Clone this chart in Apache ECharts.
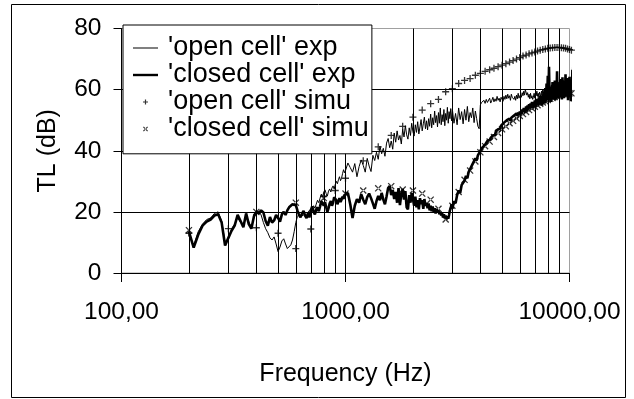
<!DOCTYPE html>
<html>
<head>
<meta charset="utf-8">
<script src="https://cdn.jsdelivr.net/npm/echarts@6/dist/echarts.min.js"></script>
<style>
  html, body { margin: 0; padding: 0; background: #fff; }
  #chart { width: 634px; height: 399px; }
</style>
</head>
<body>
<div id="chart"></div>
<script>
// Frequency sweep of the measurements: [start, end, step] in Hz
const sweepBands = [[200, 990, 10], [1000, 2975, 25], [3000, 10400, 50]];

// Measured transmission loss (dB), 'open cell' foam
const openExpLow = [
  12.5, 9.0, 13.5, 16.0, 17.5, 18.0, 19.5, 20.0, 17.0, 10.0,
  11.0, 14.5, 16.0, 18.0, 16.5, 15.5, 18.8, 16.8, 15.0, 18.0,
  19.8, 20.2, 19.0, 16.5, 14.5, 13.2, 11.5, 10.8, 11.8, 9.5,
  7.0, 8.5, 10.5, 11.2, 9.5, 8.0, 7.8, 9.2, 10.8, 13.5,
  16.5, 18.5, 19.2, 18.5, 18.0, 19.0, 19.5, 18.5, 19.8, 20.5,
  20.0, 21.0, 22.0, 21.2, 22.5, 23.8, 23.0, 24.5, 25.8, 25.0,
  26.5, 27.2, 26.0, 25.2, 26.8, 27.5, 26.5, 27.8, 28.5, 27.5,
  29.0, 30.0, 29.2, 30.5, 31.5, 30.2, 31.0, 32.5, 33.8, 32.8
];
const openExpMid = [
  33.5, 36.0, 34.5, 33.0, 35.8, 31.5, 34.8, 37.0, 35.2, 33.0,
  37.5, 35.0, 33.2, 38.5, 36.8, 39.5, 37.2, 41.5, 39.0, 40.8,
  38.2, 42.5, 44.0, 41.0, 43.2, 40.5, 45.8, 42.8, 46.5, 43.5,
  45.0, 42.2, 47.0, 44.5, 48.2, 45.2, 43.8, 47.5, 45.0, 49.0,
  46.2, 44.8, 48.5, 46.0, 49.5, 45.5, 47.8, 50.2, 46.5, 48.8,
  51.0, 47.2, 49.8, 46.8, 50.5, 48.0, 52.0, 47.5, 50.8, 48.5,
  53.0, 49.2, 51.5, 47.8, 52.5, 49.0, 54.0, 48.5, 51.8, 49.5,
  53.5, 48.2, 52.2, 50.0, 54.2, 49.0, 52.8, 50.5, 53.8, 49.8
];
const openExpHigh = [
  53.5, 49.0, 52.2, 48.5, 54.0, 50.2, 52.8, 48.8, 53.5, 50.0,
  54.5, 49.5, 52.5, 50.8, 54.0, 49.2, 53.0, 50.5, 48.0, 47.2,
  55.0, 55.8, 55.2, 56.5, 55.5, 56.8, 55.8, 56.2, 57.2, 55.6,
  56.5, 57.5, 56.0, 57.0, 56.2, 57.8, 56.5, 57.2, 56.0, 57.5,
  57.0, 56.2, 57.8, 56.8, 58.2, 57.0, 58.5, 57.2, 58.0, 56.5,
  58.5, 57.5, 58.0, 56.8, 57.8, 56.5, 58.2, 57.0, 58.8, 57.2,
  57.8, 58.5, 57.5, 59.0, 58.0, 59.5, 58.2, 60.0, 59.5, 58.2,
  59.0, 57.5, 58.5, 57.0, 58.8, 57.2, 58.0, 56.8, 57.5, 58.8,
  57.2, 59.0, 58.0, 59.5, 57.8, 58.8, 57.5, 59.2, 58.5, 57.8,
  59.5, 58.2, 60.2, 58.5, 59.8, 58.0, 60.5, 58.8, 59.5, 57.5,
  60.0, 58.2, 61.0, 58.5, 60.2, 57.8, 61.5, 59.0, 60.0, 58.2,
  61.8, 59.0, 60.5, 58.0, 62.0, 59.5, 61.0, 58.5, 62.5, 59.8,
  61.2, 58.8, 60.5, 59.0, 62.2, 58.5, 61.0, 59.2, 63.0, 58.8,
  61.5, 59.5, 60.2, 58.0, 62.5, 59.0, 61.0, 58.5, 62.8, 59.2,
  61.0, 58.0, 60.5, 57.5, 62.0, 58.5, 60.0, 56.5, 58.0
];

// Measured transmission loss (dB), 'closed cell' foam
const closedExpLow = [
  13.5, 8.3, 12.5, 15.5, 16.8, 17.5, 18.8, 19.2, 16.5, 9.0,
  11.5, 13.8, 15.5, 19.0, 17.0, 15.0, 19.5, 16.0, 14.5, 18.5,
  20.0, 19.5, 20.5, 19.8, 17.0, 15.5, 18.3, 16.5, 17.2, 19.0,
  18.0, 16.8, 19.2, 20.0, 19.0, 20.5, 21.5, 21.0, 22.5, 23.0,
  22.2, 20.5, 19.0, 18.2, 19.5, 20.3, 18.8, 18.0, 19.5, 18.2,
  20.5, 21.8, 20.0, 19.2, 20.8, 21.5, 20.2, 21.8, 23.5, 22.8,
  22.0, 23.2, 21.5, 20.0, 21.2, 22.8, 23.5, 22.0, 23.0, 24.8,
  25.2, 23.8, 22.5, 23.5, 24.5, 23.2, 24.0, 25.0, 24.2, 25.5
];
const closedExpMid = [
  25.5, 26.2, 22.5, 18.0, 22.0, 24.2, 23.0, 25.8, 24.0, 22.5,
  24.8, 26.0, 24.5, 22.8, 21.0, 23.5, 25.2, 23.8, 26.2, 24.0,
  22.5, 25.0, 27.8, 28.5, 25.5, 27.2, 24.2, 26.5, 23.0, 27.8,
  22.2, 25.8, 27.5, 24.0, 26.8, 21.5, 20.8, 25.5, 23.0, 26.2,
  24.2, 22.0, 25.0, 21.5, 23.8, 20.8, 24.5, 22.5, 23.8, 21.0,
  24.2, 22.0, 23.0, 21.2, 22.8, 20.5, 22.0, 20.2, 21.8, 20.0,
  21.2, 19.5, 21.0, 19.8, 20.5, 19.2, 20.0, 18.8, 19.5, 18.2,
  19.2, 18.0, 18.8, 17.5, 18.5, 17.8, 19.0, 20.5, 21.2, 22.5
];
const closedExpHigh = [
  21.0, 23.5, 22.8, 25.5, 27.0, 26.2, 28.8, 29.5, 30.2, 31.8,
  31.0, 33.2, 34.0, 33.5, 35.8, 36.2, 37.5, 36.8, 38.5, 39.2,
  40.0, 40.5, 41.2, 40.8, 42.0, 42.5, 43.2, 42.8, 43.5, 44.2,
  44.0, 45.0, 45.5, 45.2, 46.5, 46.0, 47.0, 47.5, 47.2, 48.2,
  48.0, 48.8, 49.2, 48.6, 49.5, 50.0, 49.4, 50.2, 50.5, 49.8,
  50.8, 51.2, 50.5, 51.5, 51.0, 51.8, 52.2, 51.4, 52.5, 51.8,
  52.8, 53.2, 52.0, 53.5, 52.6, 54.0, 53.2, 52.5, 54.5, 53.0,
  54.8, 53.6, 55.2, 53.8, 55.5, 54.2, 56.0, 54.0, 55.8, 54.5,
  56.5, 54.2, 57.0, 55.0, 56.2, 54.8, 57.5, 55.2, 58.0, 55.5,
  57.2, 54.8, 58.5, 56.0, 59.2, 55.5, 60.5, 56.2, 62.0, 57.0,
  64.5, 56.5, 67.5, 57.2, 61.0, 56.0, 60.2, 57.5, 62.5, 56.8,
  60.0, 57.2, 63.0, 56.5, 61.5, 58.0, 66.0, 57.0, 62.0, 58.2,
  60.5, 57.5, 63.5, 58.0, 61.0, 56.8, 64.0, 58.5, 60.2, 57.2,
  62.8, 59.0, 65.0, 57.8, 61.5, 58.2, 63.8, 56.5, 60.8, 58.0,
  64.2, 57.5, 61.2, 56.2, 62.5, 57.8, 66.5, 56.0, 68.5
];

// Simulated transmission loss, 'open cell' foam
const openSimuFreq = [
  200, 300, 400, 500, 600, 700, 800, 900, 1000, 1200,
  1400, 1600, 1800, 2000, 2200, 2400, 2600, 2800, 3000, 3200,
  3400, 3600, 3800, 4000, 4200, 4400, 4600, 4800, 5000, 5200,
  5400, 5600, 5800, 6000, 6200, 6400, 6600, 6800, 7000, 7200,
  7400, 7600, 7800, 8000, 8200, 8400, 8600, 8800, 9000, 9200,
  9400, 9600, 9800, 10000, 10200
];
const openSimuTL = [
  13.0, 14.5, 14.8, 13.0, 8.0, 14.4, 25.0, 27.0, 31.0, 36.7,
  41.3, 45.0, 48.0, 51.0, 53.3, 55.4, 56.8, 59.3, 60.3, 62.0,
  63.0, 63.6, 64.7, 65.3, 66.0, 66.5, 67.0, 67.5, 68.0, 68.5,
  69.0, 69.5, 70.0, 70.5, 71.0, 71.3, 71.7, 72.0, 72.3, 72.6,
  72.9, 73.1, 73.3, 73.5, 73.6, 73.7, 73.8, 73.8, 73.8, 73.7,
  73.6, 73.5, 73.3, 73.1, 72.9
];

// Simulated transmission loss, 'closed cell' foam
const closedSimuFreq = [
  200, 400, 600, 800, 1000, 1200, 1400, 1600, 1800, 2000,
  2200, 2400, 2600, 2800, 3000, 3200, 3400, 3600, 3800, 4000,
  4200, 4400, 4600, 4800, 5000, 5200, 5400, 5600, 5800, 6000,
  6200, 6400, 6600, 6800, 7000, 7200, 7400, 7600, 7800, 8000,
  8200, 8400, 8600, 8800, 9000, 9200, 9400, 9600, 9800, 10000,
  10200
];
const closedSimuTL = [
  14.0, 20.0, 23.0, 24.5, 26.0, 27.0, 27.7, 28.4, 27.3, 27.0,
  26.0, 24.0, 21.0, 17.5, 22.0, 26.5, 30.5, 33.5, 36.5, 39.5,
  41.5, 43.0, 44.5, 45.8, 47.0, 48.0, 49.0, 49.8, 50.6, 51.4,
  52.0, 52.7, 53.3, 53.9, 54.4, 54.9, 55.4, 55.8, 56.2, 56.6,
  57.0, 57.3, 57.6, 57.9, 58.1, 58.3, 58.5, 58.6, 58.7, 58.8,
  58.8
];

// Axis ticks and gridlines
const freqTicks = [100, 1000, 10000];
const tlTicks = [0, 20, 40, 60, 80];
const freqGrid = [200, 300, 400, 500, 600, 700, 800, 900, 1000,
                  2000, 3000, 4000, 5000, 6000, 7000, 8000, 9000];

const seriesNames = ["'open cell' exp", "'closed cell' exp", "'open cell' simu", "'closed cell' simu"];

// ---- build the series data ----
const sweepFreq = [];
sweepBands.forEach(([a, b, s]) => { for (let f = a; f <= b; f += s) sweepFreq.push(f); });
const openExp = openExpLow.concat(openExpMid, openExpHigh);
const closedExp = closedExpLow.concat(closedExpMid, closedExpHigh);
const pairs = (xs, ys) => xs.map((x, i) => [x, ys[i]]);

const FONT = "'Liberation Sans', Arial, sans-serif";
const plusSymbol = 'path://M2.85,0h1.3v7h-1.3zM0,2.85h7v1.3h-7z';
const crossSymbol = 'path://M0,0.9L0.9,0L7,6.1L6.1,7ZM0,6.1L0.9,7L7,0.9L6.1,0Z';
// legend icons: the extra move-to points fix the icon box at 25 x 14
const thinLineIcon = 'path://M0,0M25,14M0,6.5h25v1h-25z';
const thickLineIcon = 'path://M0,0M25,14M0,5.8h25v2.4h-25z';
const plusIcon = 'path://M0,0M25,14M11.9,4.5h1.2v5h-1.2zM10,6.4h5v1.2h-5z';
const crossIcon = 'path://M0,0M25,14M10,5.3L10.8,4.5L15,8.7L14.2,9.5ZM10,8.7L10.8,9.5L15,5.3L14.2,4.5Z';

const chart = echarts.init(document.getElementById('chart'), null, { renderer: 'canvas' });

chart.setOption({
  animation: false,
  backgroundColor: '#fff',
  textStyle: { fontFamily: FONT, color: '#000' },
  graphic: [{
    type: 'rect',
    silent: true,
    z: 0,
    shape: { x: 11.5, y: 4.5, width: 614, height: 393 },
    style: { fill: null, stroke: '#000', lineWidth: 1 }
  }],
  grid: {
    left: 121.5, top: 28.5, width: 448, height: 244.5,
    show: true, borderColor: '#a0a0a0', borderWidth: 1, backgroundColor: 'transparent'
  },
  legend: {
    orient: 'vertical',
    left: 123, top: 25,
    padding: [9.5, 3, 11.3, 10],
    itemGap: 0, itemWidth: 25, itemHeight: 14,
    backgroundColor: '#fff', borderColor: '#000', borderWidth: 1, borderRadius: 0,
    selectedMode: false,
    itemStyle: { borderWidth: 0, color: '#000' },
    textStyle: { fontFamily: FONT, fontSize: 27, color: '#000', lineHeight: 24.3, padding: [0, 0, 0, 5] },
    data: [
      { name: seriesNames[0], icon: thinLineIcon },
      { name: seriesNames[1], icon: thickLineIcon },
      { name: seriesNames[2], icon: plusIcon },
      { name: seriesNames[3], icon: crossIcon }
    ],
    z: 10
  },
  xAxis: {
    type: 'log', logBase: 10,
    min: freqTicks[0], max: freqTicks[freqTicks.length - 1],
    name: 'Frequency (Hz)', nameLocation: 'middle', nameGap: 88.5,
    nameTextStyle: { fontFamily: FONT, fontSize: 25, color: '#000' },
    axisLine: { show: true, onZero: false, lineStyle: { color: '#000', width: 1 } },
    axisTick: { show: true, inside: false, length: 9, lineStyle: { color: '#000', width: 1 } },
    axisLabel: {
      fontFamily: FONT, fontSize: 24.5, color: '#000', margin: 27,
      formatter: v => v.toFixed(2).replace('.', ',')
    },
    splitLine: { show: false },
    minorTick: { show: false }
  },
  yAxis: {
    type: 'value',
    min: tlTicks[0], max: tlTicks[tlTicks.length - 1], interval: 20,
    name: 'TL (dB)', nameLocation: 'middle', nameGap: 61,
    nameTextStyle: { fontFamily: FONT, fontSize: 25, color: '#000' },
    axisLine: { show: true, lineStyle: { color: '#000', width: 1 } },
    axisTick: { show: true, inside: false, length: 8, lineStyle: { color: '#000', width: 1 } },
    axisLabel: { fontFamily: FONT, fontSize: 24.5, color: '#000', margin: 20 },
    splitLine: { show: true, showMaxLine: false, lineStyle: { color: '#000', width: 1 } }
  },
  series: [
    {
      name: seriesNames[0],
      type: 'line',
      data: pairs(sweepFreq, openExp),
      symbol: 'none', showSymbol: false, clip: false, sampling: null,
      color: '#000',
      lineStyle: { color: '#000', width: 1 },
      z: 3,
      markLine: {
        silent: true, z: 1, animation: false,
        symbol: ['none', 'none'],
        label: { show: false },
        lineStyle: { color: '#000', width: 1, type: 'solid' },
        emphasis: { disabled: true },
        data: freqGrid.map(f => ({ xAxis: f }))
      }
    },
    {
      name: seriesNames[1],
      type: 'line',
      data: pairs(sweepFreq, closedExp),
      symbol: 'none', showSymbol: false, clip: false,
      color: '#000',
      lineStyle: { color: '#000', width: 2.6 },
      z: 3
    },
    {
      name: seriesNames[2],
      type: 'scatter',
      data: pairs(openSimuFreq, openSimuTL),
      symbol: plusSymbol, symbolSize: 7, clip: false,
      color: '#000',
      itemStyle: { color: '#000', borderWidth: 0 },
      z: 4
    },
    {
      name: seriesNames[3],
      type: 'scatter',
      data: pairs(closedSimuFreq, closedSimuTL),
      symbol: crossSymbol, symbolSize: 7, clip: false,
      color: '#000',
      itemStyle: { color: '#000', borderWidth: 0 },
      z: 4
    }
  ]
});
</script>
</body>
</html>
